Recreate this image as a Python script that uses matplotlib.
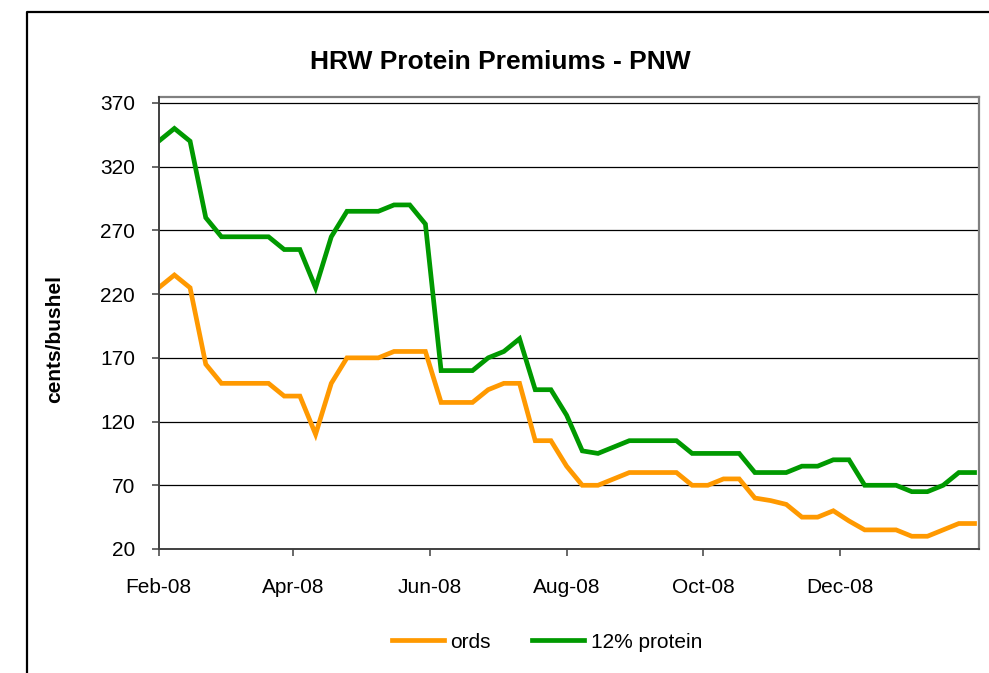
import matplotlib
matplotlib.use("Agg")
import matplotlib.pyplot as plt
import matplotlib.dates as mdates
from matplotlib.lines import Line2D
import numpy as np
import pandas as pd

# ---- data ----
start_date = "2008-02-01"
n_weeks = 53
ords = [225, 235, 225, 165, 150, 150, 150, 150, 140, 140, 110, 150, 170, 170, 170,
        175, 175, 175, 135, 135, 135, 145, 150, 150, 105, 105, 85, 70, 70, 75,
        80, 80, 80, 80, 70, 70, 75, 75, 60, 58, 55, 45, 45, 50, 42, 35, 35, 35,
        30, 30, 35, 40, 40]
protein12 = [340, 350, 340, 280, 265, 265, 265, 265, 255, 255, 225, 265, 285, 285, 285,
             290, 290, 275, 160, 160, 160, 170, 175, 185, 145, 145, 125, 97, 95, 100,
             105, 105, 105, 105, 95, 95, 95, 95, 80, 80, 80, 85, 85, 90, 90, 70, 70, 70,
             65, 65, 70, 80, 80]
series_names = ["ords", "12% protein"]
y_ticks = [20, 70, 120, 170, 220, 270, 320, 370]
x_tick_dates = ["2008-02-01", "2008-04-01", "2008-06-01", "2008-08-01", "2008-10-01", "2008-12-01"]
title = "HRW Protein Premiums - PNW"
ylabel = "cents/bushel"

dates = pd.date_range(start_date, periods=n_weeks, freq="7D")

plt.rcParams['font.family'] = ['Liberation Sans', 'DejaVu Sans']

W, H = 989, 673
fig = plt.figure(figsize=(W / 100, H / 100), dpi=100)
fig.patch.set_facecolor("white")

# axes placement in pixel terms
L, R, T, B = 158.7, 979, 97, 549
ax = fig.add_axes([L / W, 1 - B / H, (R - L) / W, (B - T) / H])

ax.plot(dates, ords, color="#FF9900", lw=3.4, solid_joinstyle="miter", label=series_names[0], zorder=3)
ax.plot(dates, protein12, color="#009900", lw=3.4, solid_joinstyle="miter", label=series_names[1], zorder=4)

ax.set_xlim(pd.Timestamp("2008-02-01"), pd.Timestamp("2009-02-01"))
ax.set_ylim(20, 370 + 6 / 1.28)
ax.set_yticks(y_ticks)
ax.set_yticklabels([str(v) for v in y_ticks])
ax.set_xticks([pd.Timestamp(d) for d in x_tick_dates])
ax.xaxis.set_major_formatter(mdates.DateFormatter("%b-%y"))

for v in y_ticks[1:]:
    ax.axhline(v, color="black", lw=0.9, zorder=1)

for side in ["top", "right"]:
    ax.spines[side].set_color("#808080")
    ax.spines[side].set_linewidth(1.6)
for side in ["left", "bottom"]:
    ax.spines[side].set_color("#404040")
    ax.spines[side].set_linewidth(1.4)
    ax.spines[side].set_zorder(5)

ax.tick_params(axis="both", direction="out", length=5, width=1.1, color="#404040",
               labelsize=15, labelcolor="black")
ax.tick_params(axis="y", pad=12)
ax.tick_params(axis="x", pad=16)

ax.set_ylabel(ylabel, fontsize=15, fontweight="bold", va="center")
ax.yaxis.set_label_coords((55 - L) / (R - L), (B - 339) / (B - T))

fig.text(500 / W, 1 - 62 / H, title, ha="center", va="center", fontsize=19, fontweight="bold")

leg = fig.legend(loc="center", bbox_to_anchor=(547 / W, 1 - 642 / H), ncol=2, frameon=False,
                 fontsize=15, handlelength=2.5, handletextpad=0.3, columnspacing=2.0)

# outer chart border (only top and left visible in the crop)
fig.add_artist(Line2D([26.7 / W, 26.7 / W, 1.01], [-0.01, 1 - 11.7 / H, 1 - 11.7 / H],
                      transform=fig.transFigure, color="black", lw=1.6))

fig.savefig("out.png", dpi=100, facecolor="white")
